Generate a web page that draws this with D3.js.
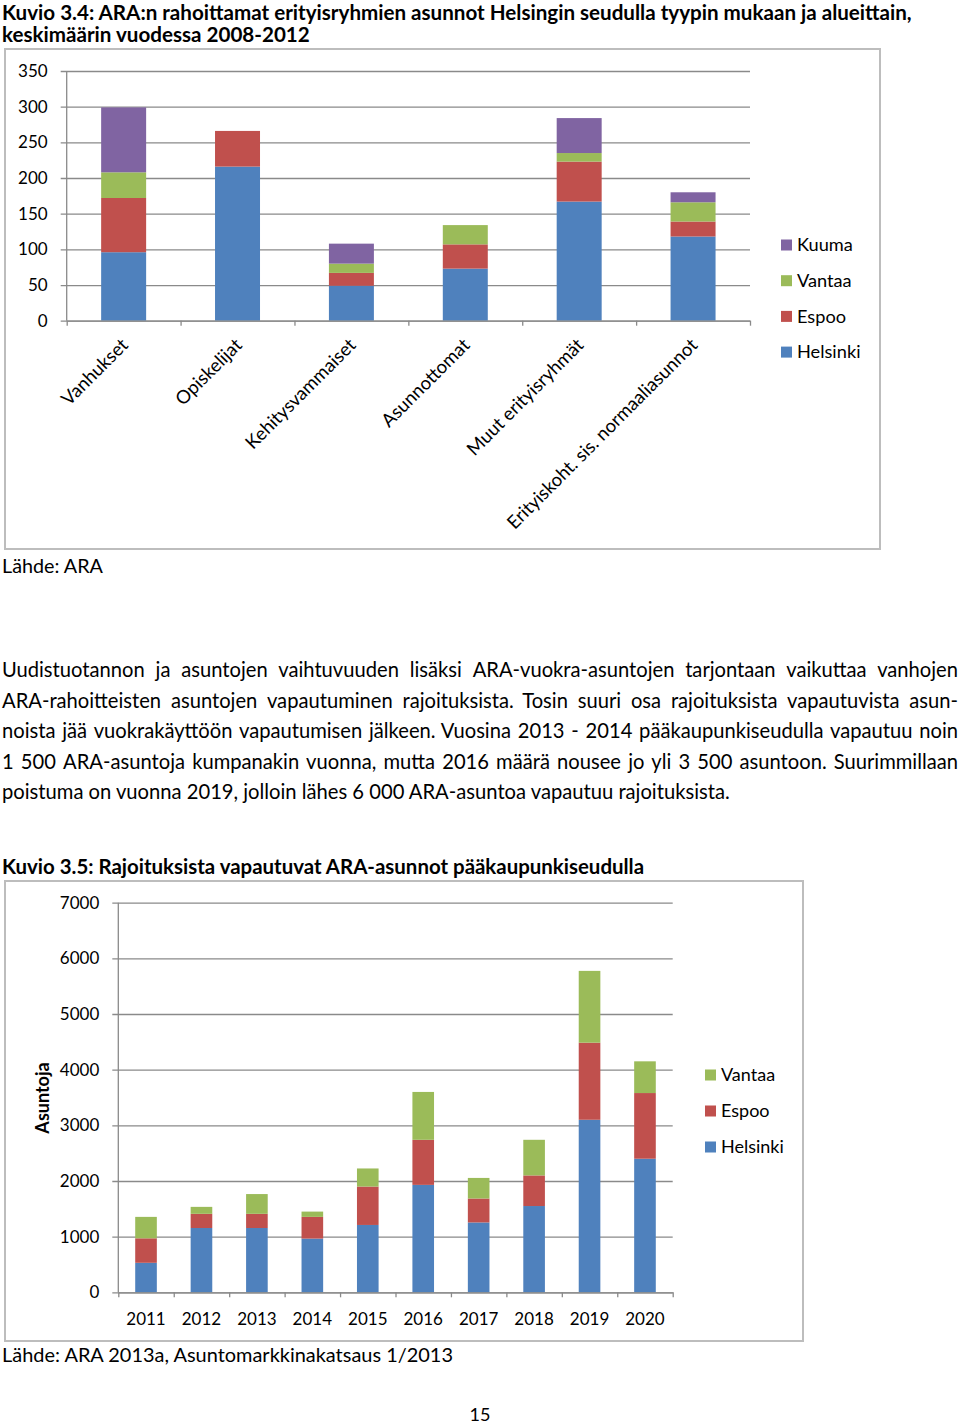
<!DOCTYPE html>
<html>
<head>
<meta charset="utf-8">
<script src="https://cdn.jsdelivr.net/npm/d3@7"></script>
<style>
  body { margin: 0; background: #fff; }
  svg { display: block; }
  text { font-family: Lato, "Open Sans", sans-serif; fill: #000; }
</style>
</head>
<body>
<script>
// ---- data: chart 3.4 (average per year 2008-2012)
var groups1 = ["Vanhukset", "Opiskelijat", "Kehitysvammaiset", "Asunnottomat",
               "Muut erityisryhmät", "Erityiskoht. sis. normaaliasunnot"];
var helsinki1 = [96, 216, 49, 73, 167, 118];
var espoo1    = [76, 50, 18, 34, 56, 21];
var vantaa1   = [36, 0, 13, 27, 12, 27];
var kuuma1    = [91, 0, 28, 0, 49, 14];
var ticks1    = [0, 50, 100, 150, 200, 250, 300, 350];

// ---- data: chart 3.5 (ARA dwellings released from restrictions)
var years2    = ["2011", "2012", "2013", "2014", "2015", "2016", "2017", "2018", "2019", "2020"];
var helsinki2 = [530, 1155, 1155, 965, 1210, 1930, 1255, 1550, 3100, 2400];
var espoo2    = [440, 255, 255, 390, 690, 810, 430, 550, 1385, 1180];
var vantaa2   = [385, 125, 355, 95, 325, 860, 370, 640, 1290, 570];
var ticks2    = [0, 1000, 2000, 3000, 4000, 5000, 6000, 7000];

var bodyLines = [
  "Uudistuotannon ja asuntojen vaihtuvuuden lisäksi ARA-vuokra-asuntojen tarjontaan vaikuttaa vanhojen",
  "ARA-rahoitteisten asuntojen vapautuminen rajoituksista. Tosin suuri osa rajoituksista vapautuvista asun-",
  "noista jää vuokrakäyttöön vapautumisen jälkeen. Vuosina 2013 - 2014 pääkaupunkiseudulla vapautuu noin",
  "1 500 ARA-asuntoja kumpanakin vuonna, mutta 2016 määrä nousee jo yli 3 500 asuntoon. Suurimmillaan",
  "poistuma on vuonna 2019, jolloin lähes 6 000 ARA-asuntoa vapautuu rajoituksista."
];

var colors = {Helsinki: "#4f81bd", Espoo: "#c0504d", Vantaa: "#9bbb59", Kuuma: "#8064a2"};
var gridColor = "#8a8a8a";

var svg = d3.select("body").append("svg")
  .attr("width", 960)
  .attr("height", 1425);

// scale a single line of text so it spans the given width
function fitText(t, width) {
  var len = t.node().getComputedTextLength();
  var fs = parseFloat(t.attr("font-size"));
  t.attr("font-size", (fs * width / len).toFixed(2));
  return fs * width / len;
}

// ---------------- titles ----------------
var t1 = svg.append("text").attr("x", 2).attr("y", 20)
  .attr("font-size", 17).attr("font-weight", "bold")
  .text("Kuvio 3.4: ARA:n rahoittamat erityisryhmien asunnot Helsingin seudulla tyypin mukaan ja alueittain,");
var titleFs = fitText(t1, 910);
svg.append("text").attr("x", 2).attr("y", 42)
  .attr("font-size", titleFs).attr("font-weight", "bold")
  .text("keskimäärin vuodessa 2008-2012");

// ---------------- chart 3.4 ----------------
svg.append("rect")
  .attr("x", 5).attr("y", 49).attr("width", 875).attr("height", 500)
  .attr("fill", "none").attr("stroke", "#bdbdbd").attr("stroke-width", 2);

var c1 = {left: 66.7, right: 750, top: 71, bottom: 320.7};

var x1 = d3.scaleBand().domain(groups1).range([c1.left, c1.right]).padding(0);
var y1 = d3.scaleLinear().domain([0, 350]).range([c1.bottom, c1.top]);

var table1 = groups1.map(function(g, i) {
  return {group: g, Helsinki: helsinki1[i], Espoo: espoo1[i], Vantaa: vantaa1[i], Kuuma: kuuma1[i]};
});
var keys1 = ["Helsinki", "Espoo", "Vantaa", "Kuuma"];
var stack1 = d3.stack().keys(keys1)(table1);

// gridlines + value labels
var yAxis1 = svg.append("g")
  .attr("transform", "translate(" + (c1.left - 6) + ",0)")
  .call(d3.axisLeft(y1).tickValues(ticks1).tickSize(-(c1.right - c1.left + 6)).tickPadding(13).tickFormat(d3.format("d")));
yAxis1.select(".domain").remove();
yAxis1.selectAll("line").attr("stroke", gridColor).attr("stroke-width", 1.3);
yAxis1.selectAll("text").attr("font-size", 17).attr("font-family", null).attr("fill", "#000");

// vertical axis line
svg.append("line")
  .attr("x1", c1.left).attr("x2", c1.left).attr("y1", c1.top).attr("y2", c1.bottom)
  .attr("stroke", gridColor).attr("stroke-width", 1.3);

// bars
var bw1 = x1.bandwidth() * 0.395;
svg.append("g").selectAll("g")
  .data(stack1).enter().append("g")
  .attr("fill", function(d) { return colors[d.key]; })
  .selectAll("rect")
  .data(function(d) { return d; }).enter().append("rect")
  .attr("x", function(d) { return x1(d.data.group) + (x1.bandwidth() - bw1) / 2; })
  .attr("y", function(d) { return y1(d[1]); })
  .attr("width", bw1)
  .attr("height", function(d) { return y1(d[0]) - y1(d[1]); });

// category axis with tick marks between categories
var xEdge1 = d3.scaleLinear().domain([0, groups1.length]).range([c1.left, c1.right]);
var xAxis1 = svg.append("g")
  .attr("transform", "translate(0," + c1.bottom + ")")
  .call(d3.axisBottom(xEdge1).ticks(groups1.length).tickSize(5).tickSizeOuter(0).tickFormat(""));
xAxis1.select(".domain").attr("stroke", gridColor).attr("stroke-width", 1.3);
xAxis1.selectAll("line").attr("stroke", gridColor).attr("stroke-width", 1.3);

// rotated category labels
svg.append("g").selectAll("text")
  .data(groups1).enter().append("text")
  .attr("transform", function(d) {
    return "translate(" + (x1(d) + x1.bandwidth() / 2 + 1) + "," + (c1.bottom + 21) + ") rotate(-45)";
  })
  .attr("text-anchor", "end")
  .attr("dy", "0.35em")
  .attr("font-size", 18.5)
  .text(function(d) { return d; });

// legend
var legend1 = svg.append("g").selectAll("g")
  .data(keys1.slice().reverse()).enter().append("g")
  .attr("transform", function(d, i) { return "translate(781," + (245 + i * 35.7) + ")"; });
legend1.append("rect").attr("x", 0).attr("y", -5.5).attr("width", 11).attr("height", 11)
  .attr("fill", function(d) { return colors[d]; });
legend1.append("text").attr("x", 16).attr("dy", "0.35em").attr("font-size", 18.2)
  .text(function(d) { return d; });

var src1 = svg.append("text").attr("x", 2).attr("y", 573).attr("font-size", 18).text("Lähde: ARA");
fitText(src1, 101);

// ---------------- body text (justified) ----------------
var last = svg.append("text").attr("x", 2).attr("y", 799).attr("font-size", 18)
  .text(bodyLines[4]);
var bodyFs = fitText(last, 728);

bodyLines.slice(0, 4).forEach(function(line, li) {
  var words = line.split(" ");
  var t = svg.append("text").attr("y", 677 + li * 30.5).attr("font-size", bodyFs);
  var spans = t.selectAll("tspan").data(words).enter().append("tspan").text(function(d) { return d; });
  var widths = spans.nodes().map(function(n) { return n.getComputedTextLength(); });
  var gap = (956 - d3.sum(widths)) / (words.length - 1);
  var xPos = 2;
  spans.attr("x", function(d, i) {
    var xx = xPos;
    xPos += widths[i] + gap;
    return xx;
  });
});

// ---------------- chart 3.5 ----------------
var t2 = svg.append("text").attr("x", 2).attr("y", 874)
  .attr("font-size", titleFs).attr("font-weight", "bold")
  .text("Kuvio 3.5: Rajoituksista vapautuvat ARA-asunnot pääkaupunkiseudulla");
fitText(t2, 642);

svg.append("rect")
  .attr("x", 5).attr("y", 881).attr("width", 798).attr("height", 460)
  .attr("fill", "none").attr("stroke", "#bdbdbd").attr("stroke-width", 2);

var c2 = {left: 118.3, right: 672.7, top: 902.7, bottom: 1292.3};

var x2 = d3.scaleBand().domain(years2).range([c2.left, c2.right]).padding(0);
var y2 = d3.scaleLinear().domain([0, 7000]).range([c2.bottom, c2.top]);

var table2 = years2.map(function(yr, i) {
  return {year: yr, Helsinki: helsinki2[i], Espoo: espoo2[i], Vantaa: vantaa2[i]};
});
var keys2 = ["Helsinki", "Espoo", "Vantaa"];
var stack2 = d3.stack().keys(keys2)(table2);

var yAxis2 = svg.append("g")
  .attr("transform", "translate(" + (c2.left - 6) + ",0)")
  .call(d3.axisLeft(y2).tickValues(ticks2).tickSize(-(c2.right - c2.left + 6)).tickPadding(13).tickFormat(d3.format("d")));
yAxis2.select(".domain").remove();
yAxis2.selectAll("line").attr("stroke", gridColor).attr("stroke-width", 1.3);
yAxis2.selectAll("text").attr("font-size", 17).attr("font-family", null).attr("fill", "#000");

svg.append("line")
  .attr("x1", c2.left).attr("x2", c2.left).attr("y1", c2.top).attr("y2", c2.bottom)
  .attr("stroke", gridColor).attr("stroke-width", 1.3);

var bw2 = x2.bandwidth() * 0.39;
svg.append("g").selectAll("g")
  .data(stack2).enter().append("g")
  .attr("fill", function(d) { return colors[d.key]; })
  .selectAll("rect")
  .data(function(d) { return d; }).enter().append("rect")
  .attr("x", function(d) { return x2(d.data.year) + (x2.bandwidth() - bw2) / 2; })
  .attr("y", function(d) { return y2(d[1]); })
  .attr("width", bw2)
  .attr("height", function(d) { return y2(d[0]) - y2(d[1]); });

var xEdge2 = d3.scaleLinear().domain([0, years2.length]).range([c2.left, c2.right]);
var xAxis2 = svg.append("g")
  .attr("transform", "translate(0," + c2.bottom + ")")
  .call(d3.axisBottom(xEdge2).ticks(years2.length).tickSize(5).tickSizeOuter(0).tickFormat(""));
xAxis2.select(".domain").attr("stroke", gridColor).attr("stroke-width", 1.3);
xAxis2.selectAll("line").attr("stroke", gridColor).attr("stroke-width", 1.3);

svg.append("g").selectAll("text")
  .data(years2).enter().append("text")
  .attr("x", function(d) { return x2(d) + x2.bandwidth() / 2; })
  .attr("y", 1325)
  .attr("text-anchor", "middle")
  .attr("font-size", 17)
  .text(function(d) { return d; });

// y axis title
svg.append("text")
  .attr("transform", "translate(49,1098) rotate(-90)")
  .attr("text-anchor", "middle")
  .attr("font-size", 18).attr("font-weight", "bold")
  .text("Asuntoja");

var legend2 = svg.append("g").selectAll("g")
  .data(keys2.slice().reverse()).enter().append("g")
  .attr("transform", function(d, i) { return "translate(705," + (1075 + i * 36) + ")"; });
legend2.append("rect").attr("x", 0).attr("y", -5.5).attr("width", 11).attr("height", 11)
  .attr("fill", function(d) { return colors[d]; });
legend2.append("text").attr("x", 16).attr("dy", "0.35em").attr("font-size", 18)
  .text(function(d) { return d; });

var src2 = svg.append("text").attr("x", 2).attr("y", 1362).attr("font-size", 18)
  .text("Lähde: ARA 2013a, Asuntomarkkinakatsaus 1/2013");
fitText(src2, 451);

svg.append("text").attr("x", 480).attr("y", 1421).attr("text-anchor", "middle")
  .attr("font-size", 18).text("15");
</script>
</body>
</html>
